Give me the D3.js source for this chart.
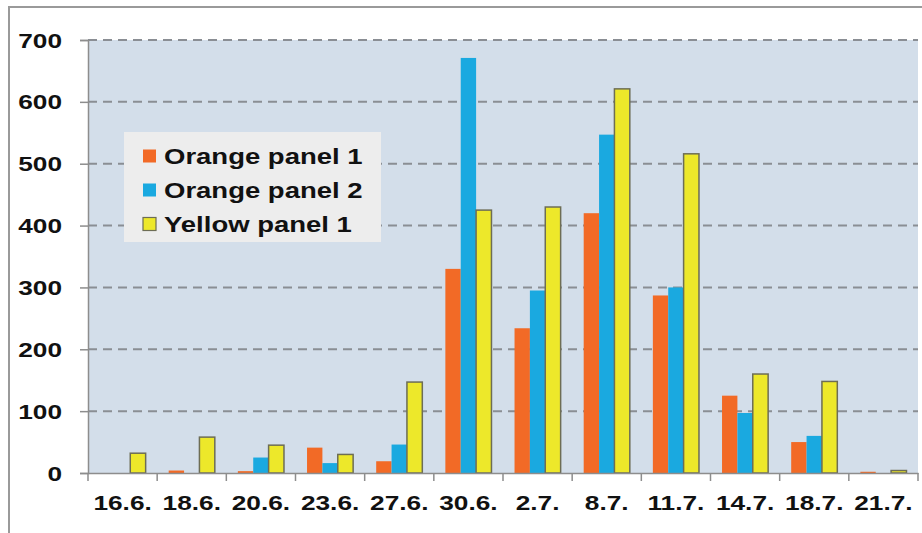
<!DOCTYPE html>
<html><head><meta charset="utf-8">
<script src="https://cdn.jsdelivr.net/npm/d3@7"></script>
<style>html,body{margin:0;padding:0;background:#fff;}svg{display:block;}</style>
</head><body>
<svg id="c" width="922" height="533"></svg>
<script>
const categories = ["16.6.","18.6.","20.6.","23.6.","27.6.","30.6.","2.7.","8.7.","11.7.","14.7.","18.7.","21.7."];
const seriesNames = ["Orange panel 1","Orange panel 2","Yellow panel 1"];
const orangePanel1 = [0,4,3,41,19,330,234,420,287,125,50,2];
const orangePanel2 = [0,0,25,16,46,671,295,547,300,97,60,0];
const yellowPanel1 = [32,58,45,30,147,425,430,621,516,160,148,4];
const yTicks = [0,100,200,300,400,500,600,700];
const colors = ["#F26A26","#1AA9E0","#EDE82A"];

const svg = d3.select("#c");
const L = 88, R = 918, T = 40, B = 473;
const stretch = 1.25;
const font = "'Liberation Sans', Arial, sans-serif";

// outer frame
svg.append("rect").attr("x",9).attr("y",7).attr("width",940).attr("height",560)
  .attr("fill","#fff").attr("stroke","#9a9a9a").attr("stroke-width",2);

const x0 = d3.scaleBand().domain(categories).range([L,R]).paddingInner(0).paddingOuter(0);
const y = d3.scaleLinear().domain([0,700]).range([B,T]);
const bw = x0.bandwidth()/4.5;
const x1 = d3.scaleBand().domain(seriesNames).range([0.75*bw, 3.75*bw]);

// plot background
svg.append("rect").attr("x",L).attr("y",T).attr("width",R-L).attr("height",B-T).attr("fill","#D3DEEA");

// gridlines
svg.append("g").selectAll("line").data(yTicks.filter(v=>v>0)).join("line")
  .attr("x1",L).attr("x2",R).attr("y1",d=>y(d)).attr("y2",d=>y(d))
  .attr("stroke","#8A8E94").attr("stroke-width",2).attr("stroke-dasharray","9,6");

// bars
const data = categories.map((c,i)=>({c, vals:[orangePanel1[i],orangePanel2[i],yellowPanel1[i]]}));
const g = svg.append("g");
data.forEach(d=>{
  d.vals.forEach((v,j)=>{
    const s = seriesNames[j];
    const r = g.append("rect")
      .attr("x", x0(d.c)+x1(s))
      .attr("width", x1.bandwidth())
      .attr("y", y(v))
      .attr("height", Math.max(0, y(0)-y(v)))
      .attr("fill", colors[j]);
    if (j===2) r.attr("stroke","#6d6d55").attr("stroke-width",1.5);
  });
});

// y axis
const yAxis = d3.axisLeft(y).tickValues(yTicks).tickSize(8).tickFormat("");
const ya = svg.append("g").attr("transform",`translate(${L},0)`).call(yAxis);
ya.select(".domain").attr("stroke","#8d8d8d").attr("stroke-width",1.5);
ya.selectAll(".tick line").attr("stroke","#8d8d8d").attr("stroke-width",1.5);
svg.append("g").selectAll("text").data(yTicks).join("text")
  .attr("transform",d=>`translate(62,${y(d)+7.5}) scale(${stretch},1)`)
  .attr("text-anchor","end").attr("font-family",font).attr("font-weight","bold")
  .attr("font-size",21).attr("fill","#111").text(d=>d);

// x axis
const xa = svg.append("g").attr("transform",`translate(0,${B})`)
  .call(d3.axisBottom(x0).tickSize(0).tickFormat(""));
xa.select(".domain").attr("stroke","#8d8d8d").attr("stroke-width",1.5);
const bounds = categories.map(c=>x0(c)).concat([R]);
svg.append("g").selectAll("line").data(bounds).join("line")
  .attr("x1",d=>d).attr("x2",d=>d).attr("y1",B).attr("y2",B+8)
  .attr("stroke","#8d8d8d").attr("stroke-width",1.5);
svg.append("g").selectAll("text").data(categories).join("text")
  .attr("transform",d=>`translate(${x0(d)+x0.bandwidth()/2},510) scale(${stretch},1)`)
  .attr("text-anchor","middle").attr("font-family",font).attr("font-weight","bold")
  .attr("font-size",21).attr("fill","#111").text(d=>d);

// legend
const lg = svg.append("g");
lg.append("rect").attr("x",124).attr("y",132).attr("width",257).attr("height",110).attr("fill","#EDEDED");
seriesNames.forEach((s,i)=>{
  const cy = 156 + i*34;
  lg.append("rect").attr("x",143).attr("y",cy-6.5).attr("width",13).attr("height",13)
    .attr("fill",colors[i]).attr("stroke", i===2?"#6d6d55":"none").attr("stroke-width",1.2);
  lg.append("text").attr("transform",`translate(164,${cy+8}) scale(${stretch},1)`)
    .attr("font-family",font).attr("font-weight","bold").attr("font-size",22)
    .attr("fill","#111").text(s);
});
</script>
</body></html>
